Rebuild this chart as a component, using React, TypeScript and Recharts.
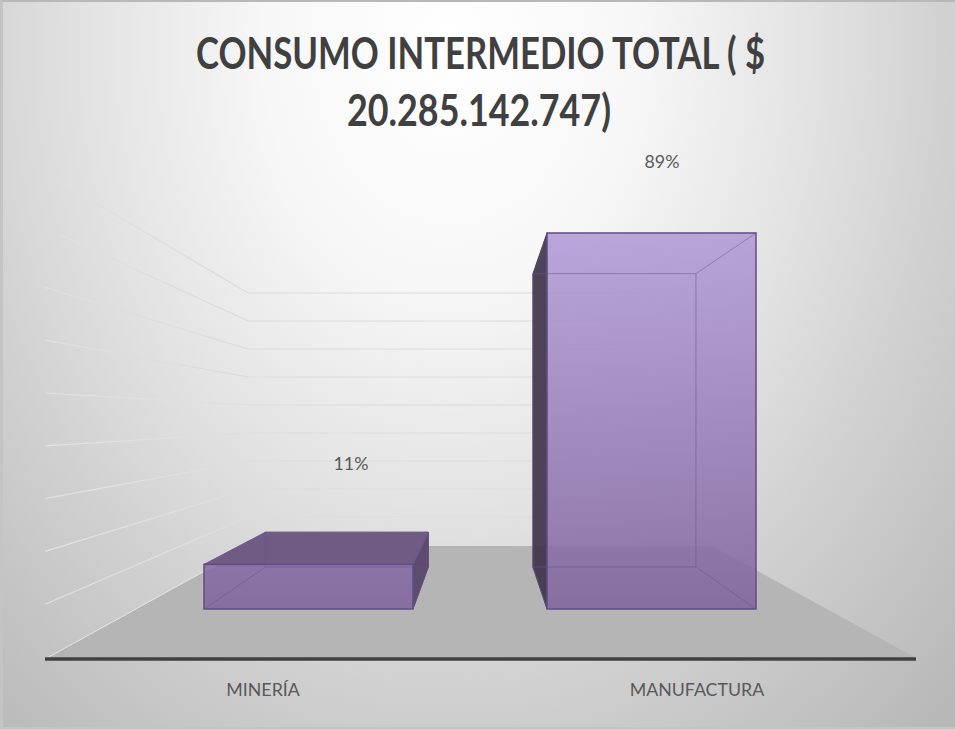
import React from "react";
import { BarChart, Bar, XAxis, YAxis, LabelList, Customized } from "recharts";

const categories = ["MINERÍA", "MANUFACTURA"];
const shares = [10.6, 89.4];
const shareLabels = ["11%", "89%"];
const titleLines = ["CONSUMO INTERMEDIO TOTAL ( $", "20.285.142.747)"];

const chartData = categories.map((name, i) => ({ name, share: shares[i], label: shareLabels[i] }));

const W = 955;
const H = 729;
const FONT = "Lato, 'Open Sans', sans-serif";
// Perspective of the fake-3D box.
const VP = { x: 483, y: 418 };
const DEPTH = 0.78;
const back = (x: number, y: number) => ({ x: VP.x + (x - VP.x) * DEPTH, y: VP.y + (y - VP.y) * DEPTH });
const LABEL_NUDGE = [{ dx: 42.5, dy: -98.5 }, { dx: 10.5, dy: -69.5 }];
const GRID_COUNT = 9;
const TITLE_LAYOUT = [{ cx: 480.5, y: 69, len: 569 }, { cx: 479, y: 126, len: 264 }];

const pts = (list: { x: number; y: number }[]) => list.map((p) => `${p.x},${p.y}`).join(" ");

function Box3D(props: any) {
  const { x, y, width, height } = props;
  const l = x, r = x + width, t = y, b = y + height;
  const TL = { x: l, y: t }, TR = { x: r, y: t }, BL = { x: l, y: b }, BR = { x: r, y: b };
  const tl = back(l, t), tr = back(r, t), bl = back(l, b), br = back(r, b);
  const edge = "#6a5490";
  return (
    <g>
      {tl.x < l && <polygon points={pts([TL, tl, bl, BL])} fill="#3c3148" fillOpacity={0.9} stroke="#4f4363" strokeWidth={1} />}
      {tr.x > r && <polygon points={pts([TR, tr, br, BR])} fill="#5d4c70" stroke="#5d4c70" strokeWidth={1} />}
      {tl.y < t && <polygon points={pts([TL, tl, tr, TR])} fill="#6f5b84" stroke="#6a5a80" strokeWidth={1} />}
      <rect x={l} y={t} width={width} height={height} fill="url(#barFace)" fillOpacity={0.85} stroke="#614b88" strokeWidth={1.5} />
      <polyline points={pts([tl, tr, br, bl, tl])} fill="none" stroke={edge} strokeOpacity={0.55} strokeWidth={1} />
      <line x1={TR.x} y1={TR.y} x2={tr.x} y2={tr.y} stroke={edge} strokeOpacity={0.5} />
      <line x1={BR.x} y1={BR.y} x2={br.x} y2={br.y} stroke={edge} strokeOpacity={0.5} />
      <line x1={BL.x} y1={BL.y} x2={bl.x} y2={bl.y} stroke={edge} strokeOpacity={0.5} />
    </g>
  );
}

function Backdrop() {
  const lines = [];
  for (let i = 1; i <= GRID_COUNT; i++) {
    const backY = 545 - 28 * i;
    const leftY = 657 - 52.8 * i;
    lines.push(
      <g key={i}>
        <line x1={i >= 8 ? 60 : 45} y1={leftY} x2={248} y2={backY} stroke={i > 5 ? "url(#wallDark)" : "url(#wallLight)"} strokeWidth={1.2} />
        <line x1={248} y1={backY} x2={712} y2={backY} stroke="#dcdcdc" strokeWidth={1} />
      </g>
    );
  }
  return (
    <g>
      <defs>
        <linearGradient id="barFace" gradientUnits="userSpaceOnUse" x1="0" y1="233" x2="0" y2="609">
          <stop offset="0" stopColor="#b098d6" />
          <stop offset="1" stopColor="#7f629c" />
        </linearGradient>
        <linearGradient id="wallLight" gradientUnits="userSpaceOnUse" x1="45" y1="0" x2="248" y2="0">
          <stop offset="0" stopColor="#e2e2e2" />
          <stop offset="1" stopColor="#dedede" />
        </linearGradient>
        <linearGradient id="wallDark" gradientUnits="userSpaceOnUse" x1="60" y1="0" x2="248" y2="0">
          <stop offset="0" stopColor="#e0e0e0" />
          <stop offset="1" stopColor="#dadada" />
        </linearGradient>
      </defs>
      {lines}
      <polygon points="47,658 916,658 712,546 250,546" fill="#b5b5b5" />
      <line x1={47} y1={658} x2={250} y2={546} stroke="#e6e6e6" strokeWidth={1} />
      <line x1={45} y1={659} x2={916} y2={659} stroke="#404040" strokeWidth={3.5} />
      {titleLines.map((t, i) => (
        <text
          key={t}
          x={TITLE_LAYOUT[i].cx}
          y={TITLE_LAYOUT[i].y}
          textAnchor="middle"
          textLength={TITLE_LAYOUT[i].len}
          lengthAdjust="spacingAndGlyphs"
          fontFamily={FONT}
          fontWeight={700}
          fontSize={44}
          fill="#404040"
        >
          {t}
        </text>
      ))}
    </g>
  );
}

function AxisTick(props: any) {
  const { x, y, payload } = props;
  return (
    <text x={480 + (x - 480) * 1.265} y={y + 79} textAnchor="middle" fontFamily={FONT} fontSize={17.8} fill="#595959">
      {payload.value}
    </text>
  );
}

function ShareLabel(props: any) {
  const { x, y, width, value, index } = props;
  const n = LABEL_NUDGE[index];
  return (
    <text x={x + width / 2 + n.dx} y={y + n.dy} textAnchor="middle" dominantBaseline="middle" fontFamily={FONT} fontSize={17.8} fill="#595959">
      {value}
    </text>
  );
}

export default function App() {
  return (
    <div
      style={{
        position: "absolute",
        left: 0,
        top: 0,
        width: W,
        height: H,
        overflow: "hidden",
        boxSizing: "border-box",
        borderLeft: "3px solid #c4c4c4",
        borderTop: "2px solid #b8b8b8",
        borderBottom: "2px solid #c4c4c4",
        background: "radial-gradient(ellipse 620px 800px at 47% 6%, #ffffff 0%, #f7f7f7 30%, #e3e3e3 58%, #d1d1d1 80%, #b8b8b8 115%)",
      }}
    >
      <div style={{ position: "absolute", left: -3, top: -2, width: W, height: H }}>
        <BarChart width={W} height={H} data={chartData} margin={{ top: 188.4, right: 132, bottom: 90, left: 137 }} barSize={209}>
          <Customized component={Backdrop} />
          <XAxis dataKey="name" axisLine={false} tickLine={false} height={30} tick={<AxisTick />} interval={0} />
          <YAxis hide domain={[0, 100]} />
          <Bar dataKey="share" isAnimationActive={false} shape={<Box3D />}>
            <LabelList dataKey="label" content={<ShareLabel />} />
          </Bar>
        </BarChart>
      </div>
    </div>
  );
}
